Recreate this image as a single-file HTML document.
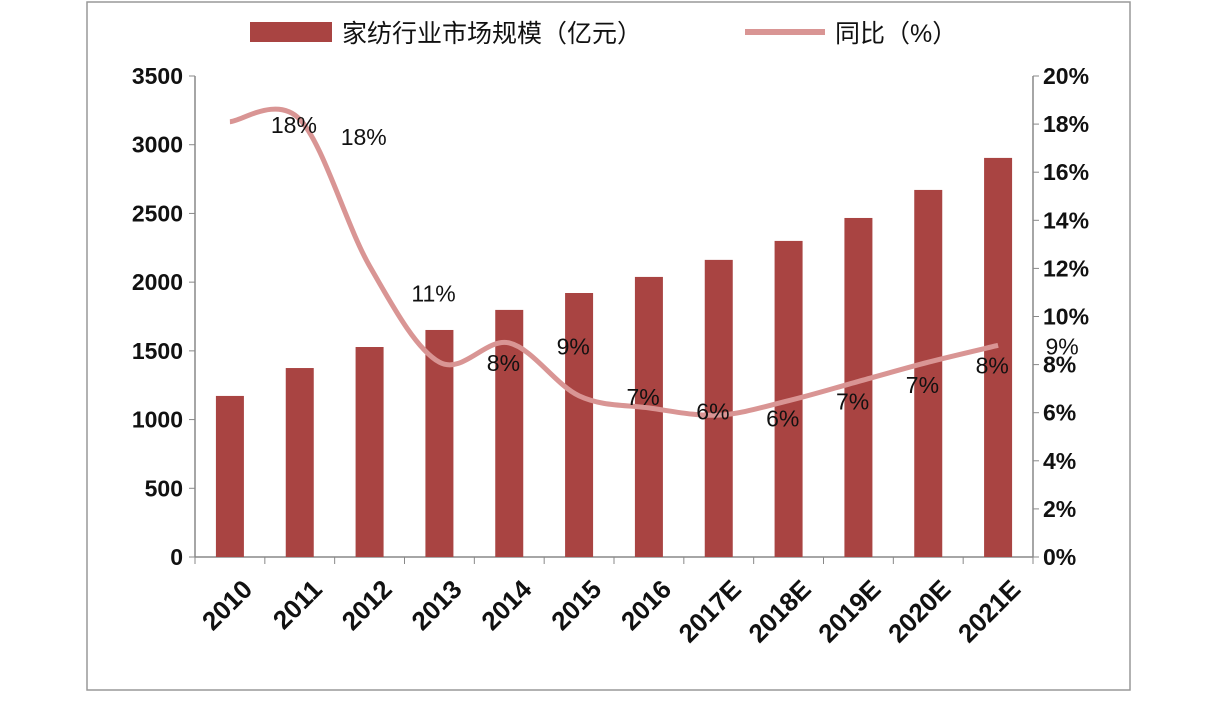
<!DOCTYPE html>
<html><head><meta charset="utf-8"><style>
body{margin:0;background:#fff;}
svg text{font-family:"Liberation Sans","Noto Sans CJK SC",sans-serif;}
</style></head><body>
<svg width="1208" height="699" xmlns="http://www.w3.org/2000/svg">
<rect x="87" y="2" width="1043" height="688" fill="#fff" stroke="#999" stroke-width="1.5"/>
<g>
<rect x="250" y="22" width="82" height="20" fill="#a94442"/>
<text x="342" y="42" font-size="25" fill="#111">家纺行业市场规模（亿元）</text>
<line x1="745" y1="32" x2="825" y2="32" stroke="#d99594" stroke-width="6"/>
<text x="835" y="42" font-size="25" fill="#111">同比（%）</text>
</g>
<g id="axes"></g>
<g id="bars"></g>
<g id="line"></g>
<g id="labels"></g>
</svg>
<script>
const categories=["2010","2011","2012","2013","2014","2015","2016","2017E","2018E","2019E","2020E","2021E"];
const marketSize=[1172,1375,1528,1652,1798,1921,2038,2162,2300,2467,2671,2904];
const growth=[18.1,18.2,12.1,8.1,8.9,6.7,6.2,5.9,6.5,7.3,8.1,8.8];
const growthLabels=["18%","18%","11%","8%","9%","7%","6%","6%","7%","7%","8%","9%"];
const labelValues=[18,17.5,11,8.1,8.8,6.7,6.1,5.8,6.5,7.2,8,8.8];
const leftTicks=[0,500,1000,1500,2000,2500,3000,3500];
const rightTicks=[0,2,4,6,8,10,12,14,16,18,20];
const NS="http://www.w3.org/2000/svg";
const L=195,R=1033,T=76,B=557;
const bw=(R-L)/categories.length;
const x=i=>L+bw*(i+0.5);
const yL=v=>B-(v/3500)*(B-T);
const yR=v=>B-(v/20)*(B-T);
function mk(p,tag,a){const e=document.createElementNS(NS,tag);for(const k in a)e.setAttribute(k,a[k]);document.getElementById(p).appendChild(e);return e;}
let e=mk("axes","line",{x1:L,y1:T,x2:L,y2:B,stroke:"#888","stroke-width":1.5});


e=mk("axes","line",{x1:R,y1:T,x2:R,y2:B,stroke:"#888","stroke-width":1.5});


e=mk("axes","line",{x1:L,y1:B,x2:R,y2:B,stroke:"#888","stroke-width":1.5});


leftTicks.forEach(v=>{
 mk("axes","line",{x1:L-6,y1:yL(v),x2:L,y2:yL(v),stroke:"#888"});
 const t=mk("axes","text",{x:L-12,y:yL(v)+8,"text-anchor":"end","font-size":23,"font-weight":"bold",fill:"#111"});
 t.textContent=v;
 
 
});
rightTicks.forEach(v=>{
 mk("axes","line",{x1:R,y1:yR(v),x2:R+6,y2:yR(v),stroke:"#888"});
 const t=mk("axes","text",{x:R+10,y:yR(v)+8,"font-size":23,"font-weight":"bold",fill:"#111"});
 t.textContent=v+"%";
 
 
});
for(let i=0;i<=categories.length;i++){mk("axes","line",{x1:L+bw*i,y1:B,x2:L+bw*i,y2:B+7,stroke:"#888"});}
categories.forEach((c,i)=>{
 const cx=x(i)+14,cy=B+24;
 const t=mk("axes","text",{x:cx,y:cy,"text-anchor":"end","font-size":26,"font-weight":"bold",fill:"#111",transform:`rotate(-45 ${cx} ${cy})`,dy:"14"});
 t.textContent=c;
 
 
});
marketSize.forEach((v,i)=>{
 const r=mk("bars","rect",{x:x(i)-14,y:yL(v),width:28,height:B-yL(v),fill:"#a94442"});
 
 
});
const pts=growth.map((v,i)=>[x(i),yR(v)]);
let d=`M${pts[0][0]},${pts[0][1]}`;
for(let i=0;i<pts.length-1;i++){
 const p0=pts[Math.max(0,i-1)],p1=pts[i],p2=pts[i+1],p3=pts[Math.min(pts.length-1,i+2)];
 const c1=[p1[0]+(p2[0]-p0[0])/6,p1[1]+(p2[1]-p0[1])/6],c2=[p2[0]-(p3[0]-p1[0])/6,p2[1]-(p3[1]-p1[1])/6];
 d+=` C${c1[0]},${c1[1]} ${c2[0]},${c2[1]} ${p2[0]},${p2[1]}`;
}
const path=mk("line","path",{d:d,fill:"none",stroke:"#d99594","stroke-width":5});


growthLabels.forEach((s,i)=>{
 const t=mk("labels","text",{x:x(i)+64,y:yR(labelValues[i])+9,"text-anchor":"middle","font-size":23,fill:"#111"});
 t.textContent=s;
 
 
});
</script>
</body></html>
